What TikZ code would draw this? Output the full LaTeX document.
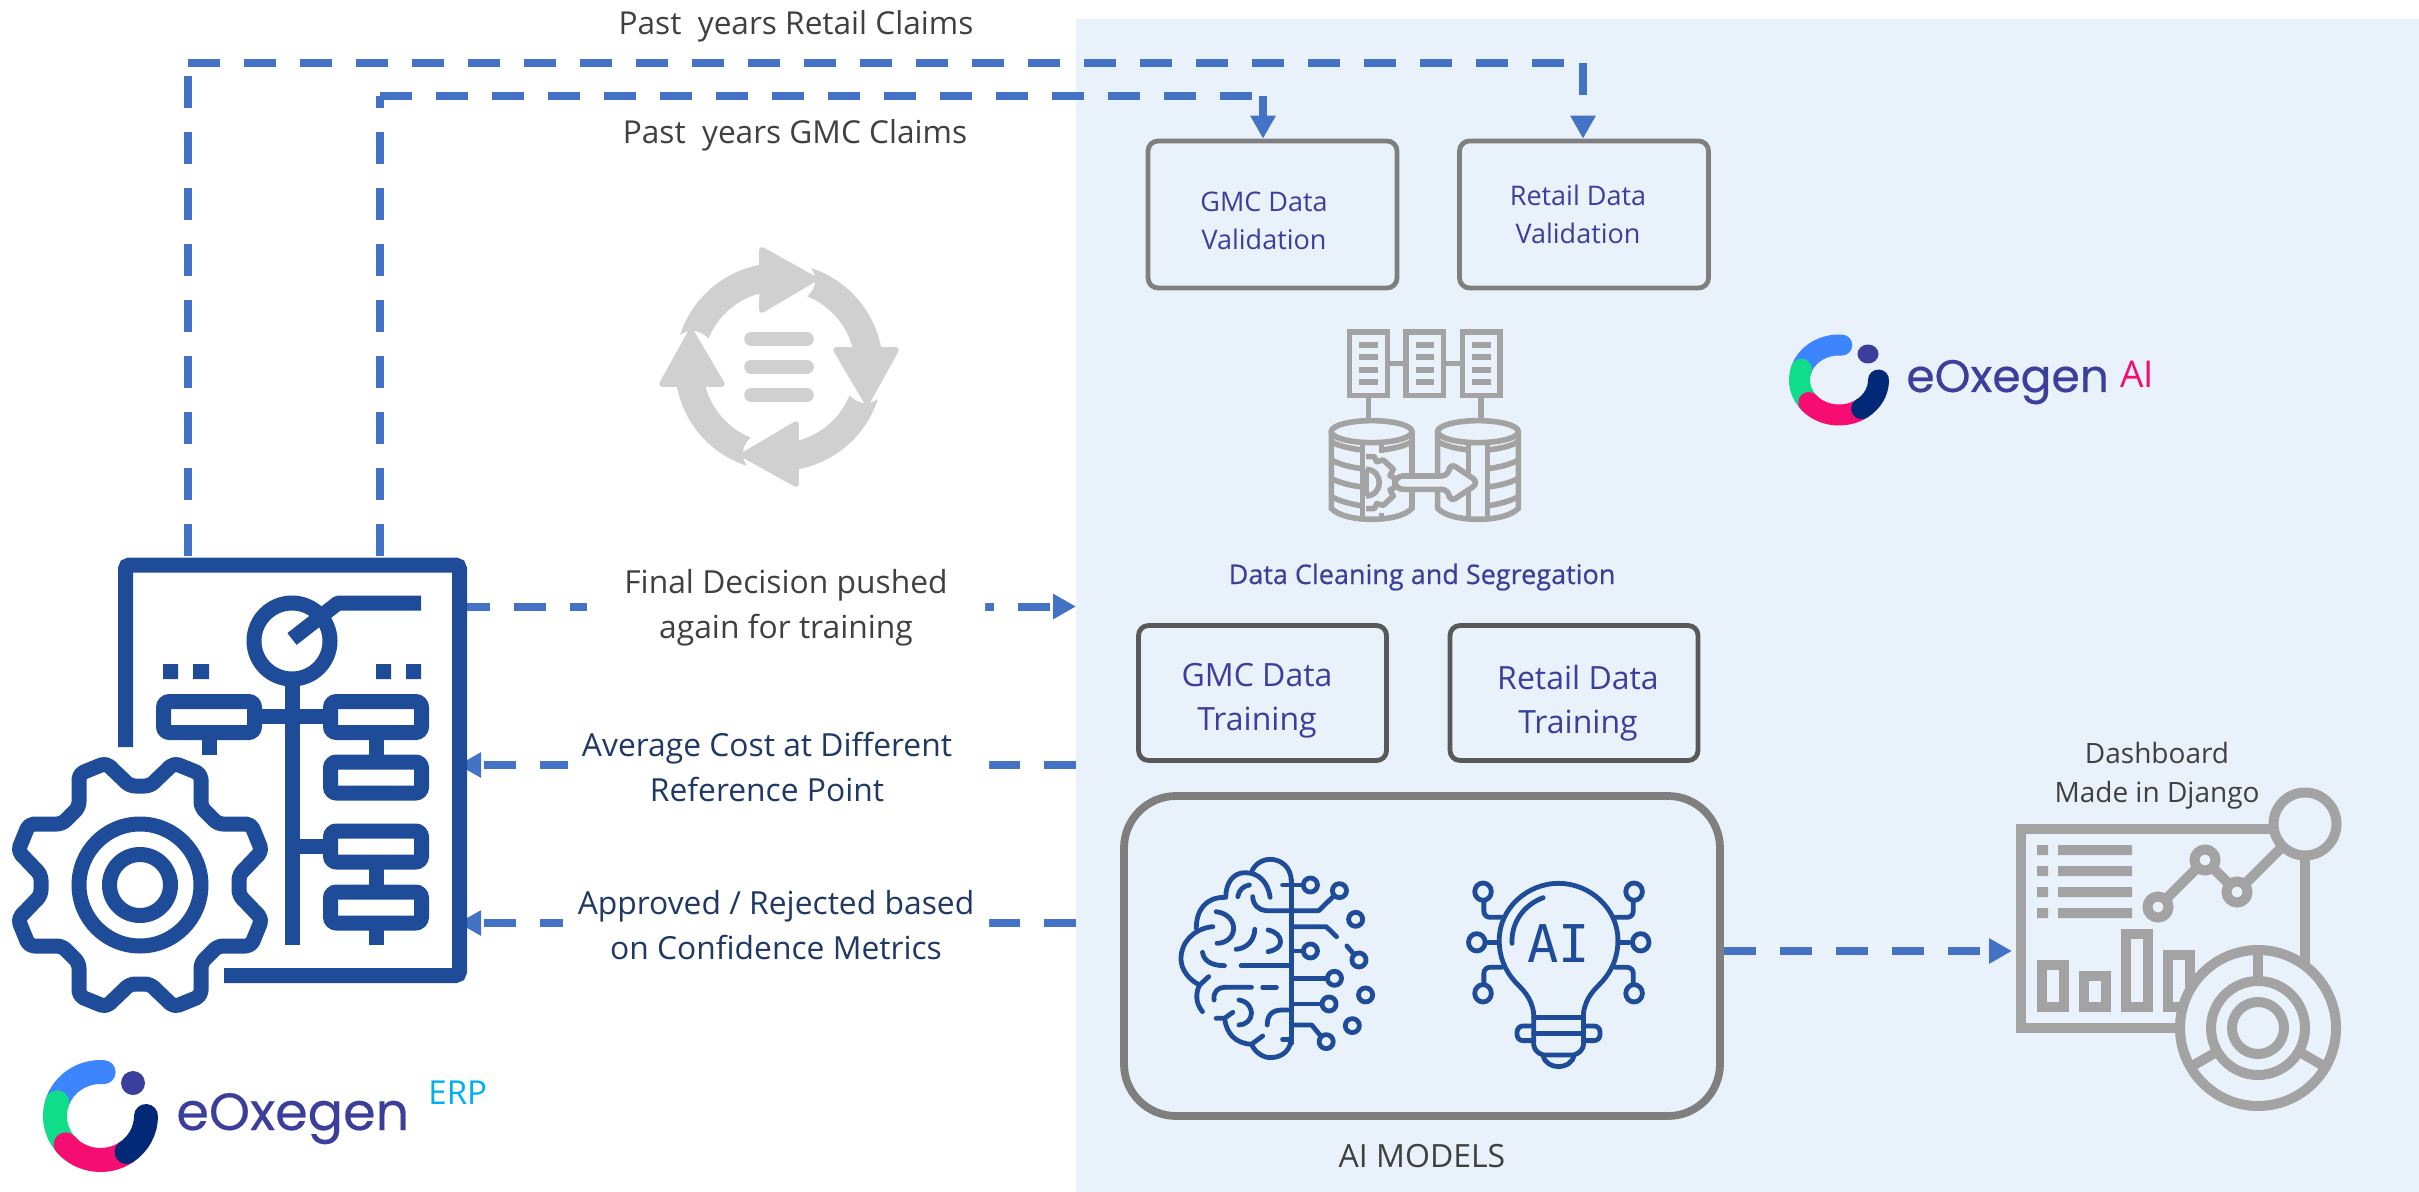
\documentclass[tikz,border=0pt]{standalone}
\usepackage{fontspec}
\setmainfont{Open Sans}
\newfontfamily\logofont[FakeBold=0.4]{Poppins}
\newfontfamily\semifont[FakeBold=0.5]{Open Sans}
\newfontfamily\aifont{DejaVu Sans Mono}
\usetikzlibrary{arrows.meta,calc}
\definecolor{panelc}{HTML}{E9F2FA}
\definecolor{conn}{HTML}{4472C4}
\definecolor{iconblue}{HTML}{1E4C99}
\definecolor{icongray}{HTML}{A3A3A3}
\definecolor{refreshgray}{HTML}{D0D0D0}
\definecolor{boxA}{HTML}{7F7F7F}
\definecolor{boxB}{HTML}{595959}
\definecolor{txtdark}{HTML}{404040}
\definecolor{txtnavy}{HTML}{1F3864}
\definecolor{txtindigo}{HTML}{3B3F9B}
\definecolor{logoblue}{HTML}{3D85FF}
\definecolor{logogreen}{HTML}{0FDD8A}
\definecolor{logopink}{HTML}{F50D72}
\definecolor{logonavy}{HTML}{022878}
\definecolor{cyanerp}{HTML}{00B0F0}
\tikzset{
  dashconn/.style={draw=conn,line width=4pt,dash pattern=on 16pt off 12pt,line cap=butt},
  solidconn/.style={draw=conn,line width=4pt,line cap=butt},
  tip/.style={-{Triangle[length=11.5pt,width=12pt]}},
  valbox/.style={draw=boxA,line width=2.4pt,rounded corners=5pt,minimum width=124.5pt,minimum height=73.5pt,inner sep=0pt},
  trainbox/.style={draw=boxB,line width=2.4pt,rounded corners=5pt,minimum width=124pt,minimum height=67.5pt,inner sep=0pt},
  modelbox/.style={draw=boxA,line width=3.9pt,rounded corners=26pt,minimum width=298pt,minimum height=160pt,inner sep=0pt},
  boxtxt/.style={text=txtindigo,align=center,inner sep=0pt,font=\fontsize{13.5}{19}\selectfont},
  traintxt/.style={text=txtindigo,align=center,inner sep=0pt,font=\fontsize{16}{22}\selectfont},
  flowtxt/.style={align=center,inner sep=0pt,font=\fontsize{15.9}{22.7}\selectfont},
  plaintxt/.style={text=txtdark,align=center,inner sep=0pt,font=\fontsize{15}{20}\selectfont},
  docline/.style={draw=iconblue,line width=7.5pt,rounded corners=2pt},
  docbox/.style={draw=iconblue,line width=7.5pt,rounded corners=3pt},
  thin blue/.style={draw=iconblue,line width=2.4pt,line cap=round,line join=round},
  dash icon/.style={draw=icongray,line width=5pt},
  db icon/.style={draw=icongray,line width=2.8pt},
}
\newcommand{\eoxlogo}[5]{%
  \begin{scope}[shift={(#1,#2)},line width=#5,line cap=round]
    \draw[logoblue] (-86:#3 and #4) arc[start angle=-86,end angle=-165,x radius=#3,y radius=#4];
    \draw[logogreen] (-162:#3 and #4) arc[start angle=-162,end angle=-225,x radius=#3,y radius=#4];
    \draw[logopink] (140:#3 and #4) arc[start angle=140,end angle=55,x radius=#3,y radius=#4];
    \draw[logonavy] (55:#3 and #4) arc[start angle=55,end angle=0,x radius=#3,y radius=#4];
  \end{scope}}
\begin{document}
\begin{tikzpicture}[x=1pt,y=1pt,xscale=0.5,yscale=-0.5]
\useasboundingbox (0,0) rectangle (2419,1192);
\node[fill=panelc,inner sep=0pt,outer sep=0pt,minimum width=671.5pt,minimum height=586.5pt,anchor=north west] (panel) at (1076,19) {};

% named connector ends
\coordinate (retA) at (188,556);
\coordinate (retB) at (188,63);
\coordinate (retC) at (1583,63);
\coordinate (gmcA) at (380,556);
\coordinate (gmcB) at (380,96);
\coordinate (gmcC) at (1263,96);
\coordinate (finalA) at (458,606.5);
\coordinate (finalB) at (1076,606.5);
\coordinate (avgA) at (1076,765);
\coordinate (avgB) at (458,765);
\coordinate (appA) at (1076,923);
\coordinate (appB) at (458,923);
\coordinate (dashB) at (2012,951);

% Boxes
\node[valbox] (gmcval) at (1272.5,214.5) {};
\node[valbox] (retval) at (1584,214.5) {};
\node[trainbox] (gmctrain) at (1262.5,693) {};
\node[trainbox] (rettrain) at (1574,693) {};
\node[modelbox] (models) at (1422,956) {};

% Top connectors
\draw[dashconn] (retA) -- (retB);
\draw[dashconn] (retB) -- (retC);
\draw[dashconn,tip] (retC) -- (retC |- retval.north);
\draw[dashconn] (gmcA) -- (gmcB);
\draw[dashconn] (gmcB) -- (gmcC);
\draw[solidconn,tip] (gmcC) -- (gmcC |- gmcval.north);

% Mid connectors and their labels
\draw[dashconn,tip] (finalA) -- (finalB);
\draw[dashconn,tip] (avgA) -- (avgB);
\draw[dashconn,tip] (appA) -- (appB);
\draw[dashconn,tip] (models.east |- dashB) -- (dashB);
\fill[white] (587,590) rectangle (985,625) (568,750) rectangle (989,780) (563,908) rectangle (989,938);
\node[flowtxt,text=txtdark] (finaltxt) at (786,608) {Final Decision pushed\\again for training};
\node[flowtxt,text=txtnavy] (avgtxt) at (767,767) {Average Cost at Different\\Reference Point};
\node[flowtxt,text=txtnavy] (apptxt) at (776,925) {Approved / Rejected based\\on Confidence Metrics};

% plain text
\node[plaintxt,font=\fontsize{15.8}{20}\selectfont] (pastret) at (796,26) {Past\ \ years Retail Claims};
\node[plaintxt,font=\fontsize{15.8}{20}\selectfont] (pastgmc) at (795,135.5) {Past\ \ years GMC Claims};
\node[boxtxt] (gmcvaltxt) at (1264,220.5) {GMC Data\\Validation};
\node[boxtxt] (retvaltxt) at (1578,214) {Retail Data\\Validation};
\node[traintxt] (gmctraintxt) at (1257,701) {GMC Data\\Training};
\node[traintxt] (rettraintxt) at (1578,703.5) {Retail Data\\Training};
\node[inner sep=0pt,text=txtindigo,font=\semifont\fontsize{13.5}{16}\selectfont] (cleantxt) at (1422,577) {Data Cleaning and Segregation};
\node[plaintxt,font=\fontsize{16}{20}\selectfont] (modelstxt) at (1422,1156) {AI MODELS};
\node[plaintxt,font=\fontsize{14}{19.5}\selectfont] (dashtxt) at (2157,776) {Dashboard\\Made in Django};

% Refresh icon
\begin{scope}[shift={(779,367)}]
  \foreach \r in {0,90,180,270}{
    \fill[refreshgray,rotate=\r] (-70.5,-28.5) .. controls (-80,-38) and (-90,-38) .. (-98.9,-32.1)
      arc[start angle=-162,end angle=-101,radius=104]
      [rounded corners=3pt] -- (-20,-122) -- (41,-88) -- (-20,-52) [sharp corners] -- (-19.7,-73.4)
      arc[start angle=-105,end angle=-158,radius=76] -- cycle;
  }
  \foreach \yy in {-28,0,28}{
    \draw[refreshgray,line width=6.8pt,line cap=round] (-28,\yy) -- (28,\yy);
  }
\end{scope}

% Database icon
\begin{scope}[shift={(1280,310)},xscale=0.3333,yscale=0.3333]
  \foreach \xx in {209,378,547}{
    \draw[db icon] (\xx,66) rectangle ++(113,190);
    \foreach \yy in {104,142,180,217}{
      \draw[draw=icongray,line width=3pt] (\xx+29,\yy) -- ++(56,0);
    }
  }
  \draw[db icon] (322,160) -- (378,160) (491,160) -- (547,160);
  \draw[db icon] (265,256) -- (265,325) (603,256) -- (603,325);
  \foreach \cx/\vA/\vB in {275/248/305,594/565/622}{
    \begin{scope}[shift={(\cx,0)}]
      \draw[db icon] (0,365) circle[x radius=121,y radius=33];
      \draw[db icon,line cap=round] (-121,365) -- (-121,595) .. controls (-100,618) and (-50,628) .. (0,628) .. controls (50,628) and (100,618) .. (121,595) -- (121,365);
    \end{scope}
    \draw[db icon] (\vA,405) -- (\vA,625) (\vB,405) -- (\vB,625);
  }
  % strata
  \draw[db icon] (154,395) .. controls (175,408) and (210,416) .. (248,420);
  \draw[db icon] (154,450) .. controls (175,462) and (210,472) .. (248,476);
  \draw[db icon] (154,505) .. controls (175,517) and (210,527) .. (248,531);
  \draw[db icon] (154,560) .. controls (175,572) and (210,582) .. (248,588);
  \draw[db icon] (305,420) .. controls (340,416) and (375,408) .. (396,395);
  \draw[db icon] (622,420) .. controls (660,416) and (695,408) .. (715,395);
  \draw[db icon] (622,476) .. controls (660,472) and (695,462) .. (715,450);
  \draw[db icon] (622,531) .. controls (660,527) and (695,517) .. (715,505);
  \draw[db icon] (622,588) .. controls (660,582) and (695,572) .. (715,560);
  \draw[db icon] (473,395) .. controls (495,408) and (530,416) .. (565,420);
  % gear
  \fill[panelc] (256,430) rectangle (345,610);
  \draw[db icon,line join=round,fill=panelc] (258,440) -- (283,440) -- (290,455) -- (310,450) -- (340,478) -- (330,497) -- (345,505) -- (345,532) -- (330,540) -- (340,558) -- (310,586) -- (290,581) -- (283,596) -- (258,596);
  \draw[db icon] (258,478) .. controls (285,478) and (298,500) .. (298,518) .. controls (298,536) and (285,558) .. (258,558);
  \draw[db icon] (258,478) -- (258,558);
  % arrow
  \draw[db icon,fill=panelc,rounded corners=4pt] (345,498) -- (508,498) -- (508,458) -- (598,518) -- (508,578) -- (508,538) -- (345,538) -- cycle;
\end{scope}

% ERP icon
\draw[docline] (125.5,747) -- (125.5,565) -- (459.5,565) -- (459.5,975.5) -- (224,975.5);
\draw[draw=iconblue,line width=7.5pt] (292,641) circle[radius=38];
\draw[draw=iconblue,line width=7.5pt,line join=round] (292,639) -- (338,603) -- (421,603);
\draw[draw=iconblue,line width=7.5pt] (292,684) -- (292,945);
\draw[draw=iconblue,line width=7.5pt] (260,716.5) -- (323,716.5) (292,846) -- (323,846);
\draw[draw=iconblue,line width=7.5pt] (209,740) -- (209,755) (376,740) -- (376,755) (376,869) -- (376,885) (376,930) -- (376,945);
\node[docbox,inner sep=0pt,minimum width=45.5pt,minimum height=15.5pt] (erpL) at (209,717) {};
\node[docbox,inner sep=0pt,minimum width=45.5pt,minimum height=15.5pt] (erpR1) at (376,717) {};
\node[docbox,inner sep=0pt,minimum width=45.5pt,minimum height=15.5pt] (erpR2) at (376,777.5) {};
\node[docbox,inner sep=0pt,minimum width=45.5pt,minimum height=15.5pt] (erpR3) at (376,846.5) {};
\node[docbox,inner sep=0pt,minimum width=45.5pt,minimum height=15.5pt] (erpR4) at (376,907.5) {};
\fill[iconblue] (163,664) rectangle (178,679) (193,664) rectangle (209,679) (376,664) rectangle (391,679) (406,664) rectangle (421,679);
\begin{scope}[shift={(140,885)}]
  \draw[draw=iconblue,line width=7.5pt,rounded corners=2.5pt,line join=round]
   (10,-99)--(34,-122)--(61,-111)--(61,-78)--(78,-61)--(111,-61)--(122,-34)--(99,-10)--
   (99,10)--(122,34)--(111,61)--(78,61)--(61,78)--(61,111)--(34,122)--(10,99)--
   (-10,99)--(-34,122)--(-61,111)--(-61,78)--(-78,61)--(-111,61)--(-122,34)--(-99,10)--
   (-99,-10)--(-122,-34)--(-111,-61)--(-78,-61)--(-61,-78)--(-61,-111)--(-34,-122)--(-10,-99)--cycle;
  \draw[draw=iconblue,line width=7.5pt] (0,0) circle[radius=61] (0,0) circle[radius=30.5];
\end{scope}

% Brain
\begin{scope}[shift={(1100,780)},xscale=0.415,yscale=0.3333,thin blue]
  \draw[thin blue] (461,300) -- (461,790);
  \draw[thin blue] (461,305) .. controls (461,260) and (435,238) .. (410,238) .. controls (390,238) and (370,255) .. (365,278);
  \draw[thin blue] (410,352) .. controls (405,310) and (385,278) .. (350,278) .. controls (320,278) and (303,310) .. (303,352);
  \draw[thin blue] (300,352) .. controls (255,352) and (232,390) .. (232,445);
  \draw[thin blue] (272,440) .. controls (225,445) and (195,490) .. (195,535) .. controls (195,570) and (215,600) .. (240,615);
  \draw[thin blue] (262,590) -- (240,615) .. controls (230,640) and (230,670) .. (247,695);
  \draw[thin blue] (300,715) .. controls (305,760) and (325,790) .. (365,793) .. controls (375,820) and (395,833) .. (410,833) .. controls (440,833) and (461,810) .. (461,770);
  \draw[thin blue] (365,793) -- (392,768);
  \draw[thin blue] (360,315) .. controls (345,318) and (335,330) .. (332,350);
  \draw[thin blue] (280,395) .. controls (310,400) and (322,425) .. (322,445) .. controls (322,470) and (305,490) .. (282,490);
  \draw[thin blue] (373,448) .. controls (372,480) and (355,505) .. (328,508);
  \draw[thin blue] (405,450) .. controls (425,455) and (435,470) .. (435,485) .. controls (435,500) and (425,510) .. (405,515);
  \draw[thin blue] (247,517) .. controls (250,540) and (265,557) .. (300,557);
  \draw[thin blue] (340,557) -- (461,557);
  \draw[thin blue] (368,350) .. controls (368,375) and (385,392) .. (400,392) -- (527,392) -- (560,352);
  \draw[thin blue] (440,315) -- (488,315);
  \draw[thin blue] (461,440) -- (545,440) -- (570,470);
  \draw[thin blue] (461,513) -- (488,513);
  \draw[thin blue] (461,595) -- (545,595);
  \draw[thin blue] (461,672) -- (533,672);
  \draw[thin blue] (461,735) -- (510,735) -- (532,768);
  \draw[thin blue] (440,778) -- (461,778);
  \draw[thin blue] (275,660) .. controls (272,635) and (285,622) .. (300,622) -- (365,622);
  \draw[thin blue] (392,622) -- (425,622);
  \draw[thin blue] (335,660) .. controls (360,665) and (365,690) .. (365,700) .. controls (365,720) and (350,735) .. (335,735);
  \draw[thin blue] (280,715) -- (300,715) -- (320,697);
  \draw[thin blue] (403,735) .. controls (403,705) and (415,690) .. (440,690) -- (461,690);
  \draw[thin blue] (595,498) -- (610,520);
  \foreach \cx/\cy in {507/315,577/332,616/418,507/513,624/540,565/595,640/645,552/672,608/737,545/785}{
    \draw[thin blue] (\cx,\cy) circle[x radius=17,y radius=21];
  }
\end{scope}

% Bulb
\begin{scope}[shift={(1100,780)},xscale=0.415,yscale=0.3333]
  \draw[thin blue] (1045,700) .. controls (1040,650) and (1015,625) .. (1000,605) .. controls (975,570) and (962,530) .. (962,480) .. controls (962,385) and (1030,310) .. (1105,310) .. controls (1180,310) and (1248,385) .. (1248,480) .. controls (1248,530) and (1235,570) .. (1210,605) .. controls (1195,625) and (1170,650) .. (1165,700);
  \draw[thin blue] (993,490) .. controls (990,430) and (1020,375) .. (1068,353);
  \draw[thin blue] (1045,700) -- (1045,795) .. controls (1047,810) and (1055,820) .. (1068,825) -- (1142,825) .. controls (1155,820) and (1163,810) .. (1165,795) -- (1165,700);
  \draw[thin blue] (1045,712) -- (1165,712) (1045,760) -- (1165,760);
  \draw[thin blue] (1068,825) .. controls (1070,850) and (1090,860) .. (1105,860) .. controls (1120,860) and (1140,850) .. (1142,825);
  \draw[thin blue,rounded corners=3pt] (1045,738) -- (1005,738) -- (1005,782) -- (1045,782);
  \draw[thin blue,rounded corners=3pt] (1165,738) -- (1205,738) -- (1205,782) -- (1165,782);
  \draw[thin blue,rounded corners=3pt] (968,412) -- (925,412) -- (925,365);
  \draw[thin blue] (960,487) -- (935,487);
  \draw[thin blue,rounded corners=3pt] (968,562) -- (925,562) -- (925,610);
  \draw[thin blue,rounded corners=3pt] (1242,412) -- (1285,412) -- (1285,365);
  \draw[thin blue] (1250,487) -- (1275,487);
  \draw[thin blue,rounded corners=3pt] (1242,562) -- (1285,562) -- (1285,610);
  \foreach \cx/\cy in {923/335,908/487,923/640,1287/335,1303/487,1287/640}{
    \draw[thin blue] (\cx,\cy) circle[x radius=20,y radius=26];
  }
  \node[inner sep=0pt,text=iconblue,font=\aifont\fontsize{26}{30}\selectfont] (aiglyph) at (1105,490) {AI};
\end{scope}

% Dashboard
\draw[dash icon] (2272,829) -- (2021,829) -- (2021,1028) -- (2180,1028);
\draw[dash icon] (2305,824) circle[radius=31.5];
\draw[dash icon] (2305,856) -- (2305,965);
\fill[icongray] (2037,845) rectangle (2048,855) (2037,866) rectangle (2048,876) (2037,887) rectangle (2048,897) (2037,908) rectangle (2048,918);
\fill[icongray] (2058,845) rectangle (2132,855) (2058,866) rectangle (2132,876) (2058,887) rectangle (2132,897) (2058,908) rectangle (2132,918);
\draw[dash icon] (2158,907) -- (2205,860) -- (2237,892) -- (2282,847);
\draw[dash icon,fill=panelc] (2158,907) circle[radius=10.5] (2205,860) circle[radius=10.5] (2237,892) circle[radius=10.5];
\draw[dash icon] (2042,965) rectangle (2064,1007) (2084,976) rectangle (2106,1007) (2126,934) rectangle (2148,1007) (2168,955) rectangle (2190,1007);
\draw[dash icon,fill=panelc] (2258,1028) circle[radius=78];
\draw[dash icon] (2258,1028) circle[radius=47] (2258,1028) circle[radius=26];
\draw[dash icon] (2258,981) -- (2258,950);
\draw[dash icon] ($(2258,1028)+(150:47)$) -- ($(2258,1028)+(150:78)$);
\draw[dash icon] ($(2258,1028)+(30:47)$) -- ($(2258,1028)+(30:78)$);

% Logos
\eoxlogo{1839}{380}{39.5}{35}{10.5pt}
\fill[txtindigo] (1868,354) circle[x radius=10.5,y radius=9.5];
\node[anchor=base west,inner sep=0pt,text=txtindigo,font=\logofont\fontsize{22.8}{24}\selectfont] (eoxai) at (1906,392) {eOxegen};
\node[anchor=base west,inner sep=0pt,text=logopink,font=\fontsize{18.5}{18}\selectfont] (ailabel) at (2120,387) {AI};
\eoxlogo{100.5}{1116}{45.5}{44}{12pt}
\fill[txtindigo] (133,1083) circle[radius=12];
\node[anchor=base west,inner sep=0pt,text=txtindigo,font=\logofont\fontsize{26.2}{28}\selectfont] (eoxerp) at (176,1130) {eOxegen};
\node[anchor=base west,inner sep=0pt,text=cyanerp,font=\fontsize{16.5}{18}\selectfont] (erplabel) at (428,1104) {ERP};
\end{tikzpicture}
\end{document}
